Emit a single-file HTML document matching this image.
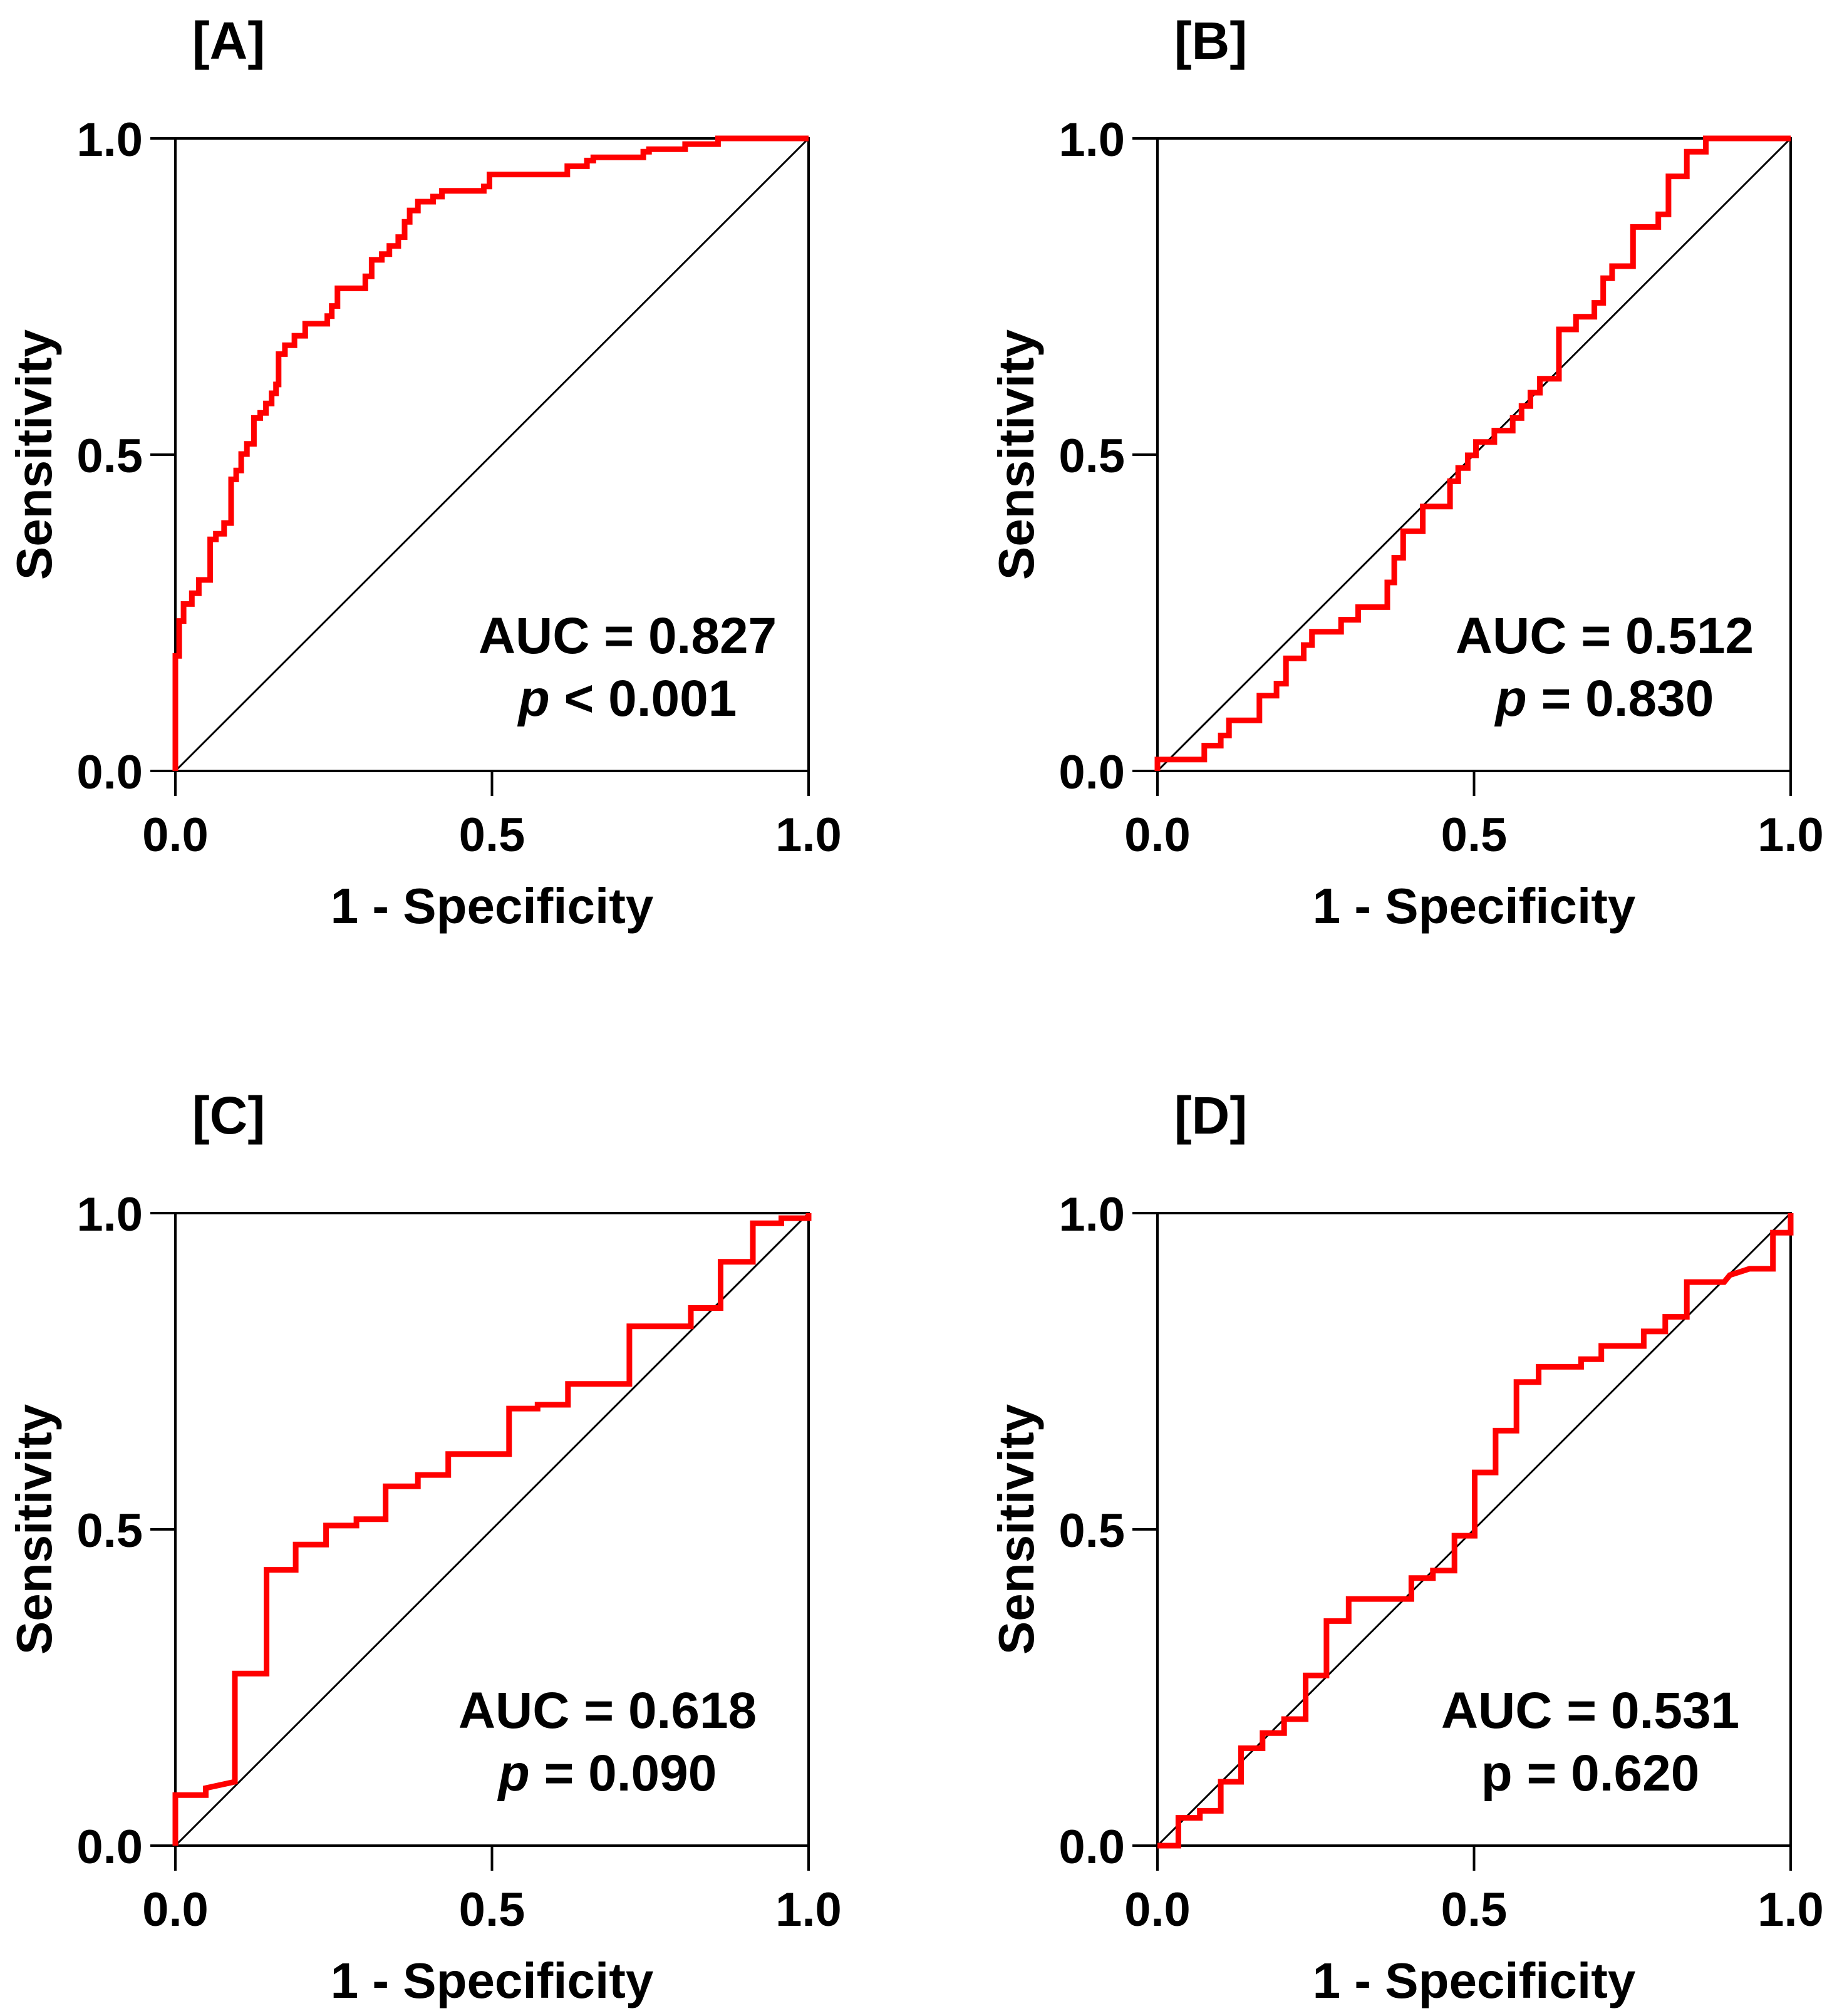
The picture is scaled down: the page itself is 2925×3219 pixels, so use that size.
<!DOCTYPE html>
<html><head><meta charset="utf-8"><style>
html,body{margin:0;padding:0;background:#fff}
svg{display:block}
text{font-family:"Liberation Sans",Arial,sans-serif;font-weight:bold;fill:#000}
</style></head><body>
<svg id="fig" width="2925" height="3219" viewBox="0 0 2925 3219" xmlns="http://www.w3.org/2000/svg"></svg>
<script>
// Panel A
const aFpr = [0,0,0.006,0.006,0.013,0.013,0.026,0.026,0.037,0.037,0.055,0.055,0.064,0.064,0.077,0.077,0.088,0.088,0.096,0.096,0.104,0.104,0.113,0.113,0.124,0.124,0.134,0.134,0.143,0.143,0.152,0.152,0.159,0.159,0.163,0.163,0.173,0.173,0.188,0.188,0.205,0.205,0.240,0.240,0.247,0.247,0.256,0.256,0.300,0.300,0.310,0.310,0.326,0.326,0.338,0.338,0.352,0.352,0.362,0.362,0.370,0.370,0.383,0.383,0.407,0.407,0.421,0.421,0.487,0.487,0.496,0.496,0.619,0.619,0.650,0.650,0.660,0.660,0.739,0.739,0.748,0.748,0.805,0.805,0.857,0.857,1];
const aTpr = [0,0.182,0.182,0.237,0.237,0.264,0.264,0.281,0.281,0.302,0.302,0.366,0.366,0.375,0.375,0.392,0.392,0.461,0.461,0.475,0.475,0.501,0.501,0.517,0.517,0.558,0.558,0.566,0.566,0.581,0.581,0.597,0.597,0.611,0.611,0.659,0.659,0.673,0.673,0.688,0.688,0.707,0.707,0.719,0.719,0.735,0.735,0.763,0.763,0.782,0.782,0.808,0.808,0.817,0.817,0.830,0.830,0.844,0.844,0.868,0.868,0.886,0.886,0.900,0.900,0.908,0.908,0.917,0.917,0.924,0.924,0.943,0.943,0.956,0.956,0.965,0.965,0.970,0.970,0.979,0.979,0.983,0.983,0.991,0.991,1,1];
// Panel B
const bFpr = [0,0,0.074,0.074,0.100,0.100,0.113,0.113,0.161,0.161,0.188,0.188,0.203,0.203,0.231,0.231,0.244,0.244,0.290,0.290,0.317,0.317,0.363,0.363,0.374,0.374,0.388,0.388,0.419,0.419,0.462,0.462,0.475,0.475,0.490,0.490,0.503,0.503,0.532,0.532,0.561,0.561,0.575,0.575,0.589,0.589,0.604,0.604,0.634,0.634,0.661,0.661,0.690,0.690,0.704,0.704,0.718,0.718,0.751,0.751,0.791,0.791,0.807,0.807,0.836,0.836,0.866,0.866,1];
const bTpr = [0,0.018,0.018,0.040,0.040,0.056,0.056,0.080,0.080,0.119,0.119,0.138,0.138,0.178,0.178,0.199,0.199,0.220,0.220,0.239,0.239,0.259,0.259,0.298,0.298,0.337,0.337,0.379,0.379,0.418,0.418,0.458,0.458,0.479,0.479,0.499,0.499,0.520,0.520,0.538,0.538,0.558,0.558,0.577,0.577,0.598,0.598,0.620,0.620,0.698,0.698,0.718,0.718,0.740,0.740,0.779,0.779,0.798,0.798,0.860,0.860,0.880,0.880,0.940,0.940,0.979,0.979,1,1];
// Panel C
const cFpr = [0,0,0.048,0.048,0.094,0.094,0.144,0.144,0.190,0.190,0.238,0.238,0.286,0.286,0.332,0.332,0.383,0.383,0.431,0.431,0.527,0.527,0.572,0.572,0.620,0.620,0.717,0.717,0.814,0.814,0.861,0.861,0.912,0.912,0.957,0.957,1,1];
const cTpr = [0,0.080,0.080,0.091,0.101,0.272,0.272,0.436,0.436,0.476,0.476,0.506,0.506,0.516,0.516,0.568,0.568,0.586,0.586,0.619,0.619,0.691,0.691,0.697,0.697,0.730,0.730,0.821,0.821,0.850,0.850,0.923,0.923,0.984,0.984,0.992,0.992,1];
// Panel D
const dFpr = [0,0.033,0.033,0.067,0.067,0.100,0.100,0.132,0.132,0.166,0.166,0.200,0.200,0.234,0.234,0.267,0.267,0.302,0.302,0.401,0.401,0.435,0.435,0.469,0.469,0.501,0.501,0.534,0.534,0.567,0.567,0.602,0.602,0.669,0.669,0.701,0.701,0.768,0.768,0.802,0.802,0.836,0.836,0.895,0.904,0.935,0.972,0.972,1,1];
const dTpr = [0,0,0.044,0.044,0.055,0.055,0.101,0.101,0.154,0.154,0.178,0.178,0.200,0.200,0.269,0.269,0.355,0.355,0.390,0.390,0.423,0.423,0.435,0.435,0.490,0.490,0.590,0.590,0.656,0.656,0.733,0.733,0.757,0.757,0.769,0.769,0.790,0.790,0.813,0.813,0.836,0.836,0.891,0.891,0.902,0.912,0.912,0.969,0.969,1];
const tickVals = [0,0.5,1];
const tickLabels = ["0.0","0.5","1.0"];
const panelLabels = ["[A]","[B]","[C]","[D]"];
const aucLabels = ["AUC = 0.827","AUC = 0.512","AUC = 0.618","AUC = 0.531"];
const pOps = ["< 0.001","= 0.830","= 0.090","= 0.620"];
const pItalic = [true,true,true,false];

const NS="http://www.w3.org/2000/svg";
const svg=document.getElementById('fig');
function mk(tag,attrs,parent){const e=document.createElementNS(NS,tag);for(const k in attrs)e.setAttribute(k,attrs[k]);(parent||svg).appendChild(e);return e;}
const panels=[
 {L:280,T:221,fpr:aFpr,tpr:aTpr,tx:722},
 {L:1848,T:221,fpr:bFpr,tpr:bTpr,tx:714},
 {L:280,T:1937,fpr:cFpr,tpr:cTpr,tx:690},
 {L:1848,T:1937,fpr:dFpr,tpr:dTpr,tx:691}
];
const W=1011,H=1010;
panels.forEach((p,i)=>{
  const g=mk('g',{});
  
  
  const xs=v=>p.L+v*W, ys=v=>p.T+H-v*H;
  const lbl=mk('text',{x:p.L+85,y:p.T-127,'font-size':84,'text-anchor':'middle'},g);
  lbl.textContent=panelLabels[i];
  
  
  const frame=mk('rect',{x:p.L,y:p.T,width:W,height:H,fill:'none',stroke:'#000','stroke-width':4},g);
  
  
  const diag=mk('line',{x1:xs(0),y1:ys(0),x2:xs(1),y2:ys(1),stroke:'#000','stroke-width':3},g);
  
  
  tickVals.forEach((v,k)=>{
    const tx=mk('line',{x1:xs(v),y1:p.T+H,x2:xs(v),y2:p.T+H+40,stroke:'#000','stroke-width':4},g);
    
    
    const ty=mk('line',{x1:p.L-40,y1:ys(v),x2:p.L,y2:ys(v),stroke:'#000','stroke-width':4},g);
    
    
    const xl=mk('text',{x:xs(v),y:p.T+H+128,'font-size':76,'text-anchor':'middle'},g);
    xl.textContent=tickLabels[k];
    
    
    const yl=mk('text',{x:p.L-52,y:ys(v)+28,'font-size':76,'text-anchor':'end'},g);
    yl.textContent=tickLabels[k];
    
    
  });
  const xt=mk('text',{x:p.L+W/2,y:p.T+H+243,'font-size':80,'text-anchor':'middle'},g);
  xt.textContent='1 - Specificity';
  
  
  const yx=p.L-198, yy=p.T+H/2;
  const yt=mk('text',{x:yx,y:yy,'font-size':80,'text-anchor':'middle',transform:`rotate(-90 ${yx} ${yy})`},g);
  yt.textContent='Sensitivity';
  
  
  const pts=p.fpr.map((f,k)=>xs(f).toFixed(1)+','+ys(p.tpr[k]).toFixed(1)).join(' ');
  const curve=mk('polyline',{points:pts,fill:'none',stroke:'#ff0000','stroke-width':9,'stroke-linejoin':'miter'},g);
  
  
  const auc=mk('text',{x:p.L+p.tx,y:p.T+822,'font-size':82,'text-anchor':'middle'},g);
  auc.textContent=aucLabels[i];
  
  
  const pv=mk('text',{x:p.L+p.tx,y:p.T+922,'font-size':82,'text-anchor':'middle'},g);
  
  
  const ps=mk('tspan',{'font-style':pItalic[i]?'italic':'normal'},pv);
  ps.textContent='p';
  const rest=mk('tspan',{},pv);
  rest.textContent=' '+pOps[i];
});
</script>
</body></html>
